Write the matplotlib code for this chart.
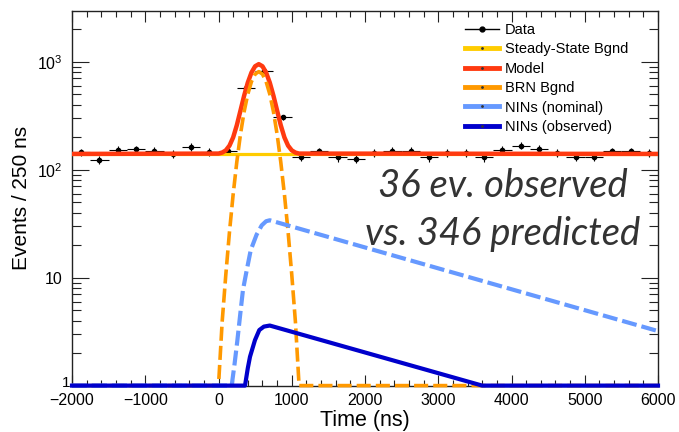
import matplotlib
matplotlib.use('Agg')
import matplotlib.pyplot as plt
from matplotlib.lines import Line2D
from matplotlib.ticker import MultipleLocator, LogLocator, NullFormatter
import numpy as np

plt.rcParams['font.family'] = ['Liberation Sans', 'DejaVu Sans']
plt.rcParams['mathtext.fontset'] = 'custom'
plt.rcParams['mathtext.rm'] = 'Liberation Sans'
plt.rcParams['mathtext.it'] = 'Liberation Sans:italic'

# data histogram (250 ns bins)
bin_centers = [-1875, -1625, -1375, -1125, -875, -625, -375, -125,
               125, 375, 625, 875, 1125, 1375, 1625, 1875,
               2125, 2375, 2625, 2875, 3125, 3375, 3625, 3875,
               4125, 4375, 4625, 4875, 5125, 5375, 5625, 5875]
counts = [145, 123, 152, 155, 150, 141, 163, 146,
          150, 570, 813, 305, 132, 148, 130, 126,
          142, 150, 150, 130, 142, 142, 130, 152,
          167, 156, 142, 132, 132, 148, 148, 142]
bin_half = 125

# steady-state background
ss_t = [-2000, 6000]
ss_v = [140, 140]

# BRN background and total model
brn_t = [-2000, 0, 50, 100, 150, 200, 250, 300, 350, 400, 450, 500, 550,
         600, 650, 700, 750, 800, 850, 900, 950, 1000, 1050, 1100, 6000]
brn_v = [1, 1, 3.9, 10.7, 26.6, 59, 118, 213, 345, 501, 654, 768, 810,
         768, 654, 501, 345, 213, 118, 59, 26.6, 10.7, 3.9, 1, 1]
model_v = [140, 141, 144, 151, 167, 199, 258, 353, 485, 641, 794, 908, 950,
           908, 794, 641, 485, 353, 258, 199, 167, 151, 144, 141, 140]

# NIN predictions
nin_nom_t = [-2000, 180, 220, 257, 300, 334, 385, 440, 520, 590, 650, 700, 6000]
nin_nom_v = [1, 1, 1.6, 2.6, 4.8, 7.7, 11.7, 18, 25, 30.5, 33.3, 34, 3.2]
nin_obs_t = [-2000, 362, 400, 430, 498, 557, 620, 700, 3600, 6000]
nin_obs_v = [1, 1, 1.45, 1.85, 2.64, 3.27, 3.52, 3.6, 1, 1]

legend_labels = ['Data', 'Steady-State Bgnd', 'Model', 'BRN Bgnd',
                 'NINs (nominal)', 'NINs (observed)']

c_ss = '#FFCC00'
c_model = '#FF3A10'
c_brn = '#FF9900'
c_nom = '#6699FF'
c_obs = '#0000CC'

W, H = 679, 432
fig = plt.figure(figsize=(W / 100, H / 100), dpi=100)
ax = fig.add_axes([72 / W, 46.4 / H, 586 / W, 374.6 / H])

ax.errorbar(bin_centers, counts, xerr=bin_half, yerr=np.sqrt(counts),
            fmt='o', ms=3.0, color='black', elinewidth=0.8, capsize=0, zorder=2)
ax.plot(ss_t, ss_v, color=c_ss, lw=2.3, zorder=3)
ax.plot(brn_t, model_v, color=c_model, lw=3.2, zorder=4, solid_joinstyle='round')
ax.plot(brn_t, brn_v, color=c_brn, lw=2.6, dashes=(3.9, 1.4), zorder=5, clip_on=False)
ax.plot(nin_nom_t, nin_nom_v, color=c_nom, lw=3.0, dashes=(3.6, 1.2), zorder=6, clip_on=False)
ax.plot(nin_obs_t, nin_obs_v, color=c_obs, lw=3.0, zorder=7, clip_on=False)

ax.set_xlim(-2000, 6000)
ax.set_yscale('log')
ax.set_ylim(1, 2950)
ax.set_yticks([1, 10, 100, 1000])
ax.set_yticklabels(['', '10', '$10^2$', '$10^3$'])
ax.yaxis.set_minor_locator(LogLocator(base=10, subs=np.arange(2, 10)))
ax.yaxis.set_minor_formatter(NullFormatter())
ax.xaxis.set_major_locator(MultipleLocator(1000))
ax.xaxis.set_minor_locator(MultipleLocator(200))

ax.tick_params(which='both', direction='in', top=True, right=True, labelsize=11.5,
               width=0.8, color='#222222')
ax.tick_params(axis='x', which='major', length=8, pad=5)
ax.tick_params(axis='x', which='minor', length=4)
ax.tick_params(axis='y', which='major', length=12, pad=7)
ax.tick_params(axis='y', which='minor', length=6.5)
for s in ax.spines.values():
    s.set_linewidth(1.0)
    s.set_color('#222222')

# the "1" label sits right at the corner, as in the ROOT original
ax.text(-0.003, 0.008, '1', transform=ax.transAxes, ha='right', va='center', fontsize=11)

ax.set_xlabel('Time (ns)', fontsize=15.5, labelpad=2)
ax.set_ylabel('Events / 250 ns', fontsize=15)
ax.yaxis.set_label_coords(-0.07, 0.5)

handles = [Line2D([], [], color='black', lw=1, marker='o', ms=3.5)]
for c in [c_ss, c_model, c_brn, c_nom, c_obs]:
    handles.append(Line2D([], [], color=c, lw=3.5, marker='.', ms=2,
                          mfc='#333333', mec='#333333'))
ax.legend(handles, legend_labels, loc='upper left',
          bbox_to_anchor=(465 / W, (H - 23) / H), bbox_transform=fig.transFigure,
          frameon=False, borderpad=0, borderaxespad=0, handlelength=2.3,
          handletextpad=0.45, labelspacing=0.37, fontsize=10.5)

ax.text(0.7355, 0.504, '36 ev. observed', transform=ax.transAxes, ha='center',
        va='baseline', fontsize=27.5, style='italic', family='Lato', color='#333333')
ax.text(0.7355, 0.375, 'vs. 346 predicted', transform=ax.transAxes, ha='center',
        va='baseline', fontsize=27.5, style='italic', family='Lato', color='#333333')

fig.savefig('out.png', dpi=100)
